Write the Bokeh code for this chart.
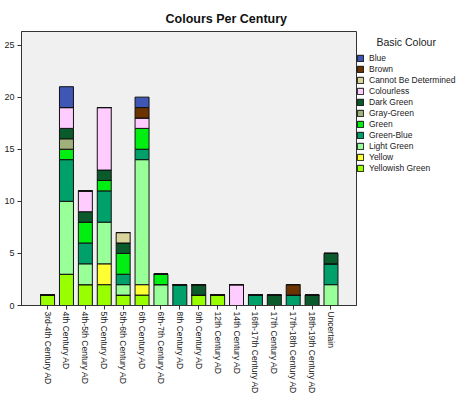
import math
from bokeh.plotting import figure
from bokeh.models import ColumnDataSource, Range1d, FixedTicker, Legend, LegendItem
from bokeh.embed import file_html
from bokeh.resources import INLINE

categories = ["3rd-4th Century AD", "4th Century AD", "4th-5th Century AD", "5th Century AD",
              "5th-6th Century AD", "6th Century AD", "6th-7th Century AD", "8th Century AD",
              "9th Century AD", "12th Century AD", "14th Century AD", "16th-17th Century AD",
              "17th Century AD", "17th-18th Century AD", "18th-19th Century AD", "Uncertain"]

yellowish_green = [1, 3, 2, 2, 1, 1, 0, 0, 1, 1, 0, 0, 0, 0, 0, 0]
yellow          = [0, 0, 0, 2, 0, 1, 0, 0, 0, 0, 0, 0, 0, 0, 0, 0]
light_green     = [0, 7, 2, 4, 1, 12, 2, 0, 0, 0, 0, 0, 0, 0, 0, 2]
green_blue      = [0, 4, 2, 3, 1, 1, 0, 2, 0, 0, 0, 1, 0, 1, 0, 2]
green           = [0, 1, 2, 1, 2, 2, 1, 0, 0, 0, 0, 0, 0, 0, 0, 0]
gray_green      = [0, 1, 0, 0, 0, 0, 0, 0, 0, 0, 0, 0, 0, 0, 0, 0]
dark_green      = [0, 1, 1, 1, 1, 0, 0, 0, 1, 0, 0, 0, 1, 0, 1, 1]
colourless      = [0, 2, 2, 6, 0, 1, 0, 0, 0, 0, 2, 0, 0, 0, 0, 0]
cannot_be_det   = [0, 0, 0, 0, 1, 0, 0, 0, 0, 0, 0, 0, 0, 0, 0, 0]
brown           = [0, 0, 0, 0, 0, 1, 0, 0, 0, 0, 0, 0, 0, 1, 0, 0]
blue            = [0, 2, 0, 0, 0, 1, 0, 0, 0, 0, 0, 0, 0, 0, 0, 0]

series_names = ["Yellowish Green", "Yellow", "Light Green", "Green-Blue", "Green",
                "Gray-Green", "Dark Green", "Colourless", "Cannot Be Determined",
                "Brown", "Blue"]
series_values = [yellowish_green, yellow, light_green, green_blue, green, gray_green,
                 dark_green, colourless, cannot_be_det, brown, blue]
series_colors = ["#99ff00", "#ffff33", "#99ff99", "#00a06a", "#00ee11", "#a0b07a",
                 "#0b5a2b", "#ffccff", "#d9d49a", "#6b3300", "#3f56b4"]

y_ticks = [0, 5, 10, 15, 20, 25]

FONT = "Liberation Sans"

xs = list(range(len(categories)))
data = {"x": xs}
for name, vals in zip(series_names, series_values):
    data[name] = vals
source = ColumnDataSource(data)

p = figure(frame_width=335, frame_height=274, output_backend="svg", toolbar_location=None,
           x_range=Range1d(-1.38, 16.35), y_range=Range1d(0, 26.3),
           min_border_left=21, min_border_right=0, min_border_top=31, min_border_bottom=89)

renderers = p.vbar_stack(series_names, x="x", width=0.74, source=source,
                         fill_color=series_colors, line_color="#111111", line_width=1)

p.background_fill_color = "#f0f0f0"
p.border_fill_color = "white"
p.outline_line_color = "#333333"
p.xgrid.visible = False
p.ygrid.visible = False

p.yaxis.ticker = FixedTicker(ticks=y_ticks)
p.yaxis.minor_tick_line_color = None
p.yaxis.major_tick_out = 4
p.yaxis.major_tick_in = 0
p.yaxis.major_label_standoff = 3
p.yaxis.major_label_text_font = FONT
p.yaxis.major_label_text_font_size = "9px"
p.yaxis.major_label_text_color = "#222222"
p.yaxis.axis_line_color = "#333333"
p.yaxis.major_tick_line_color = "#333333"

p.xaxis.ticker = FixedTicker(ticks=xs)
p.xaxis.major_label_overrides = {i: c for i, c in zip(xs, categories)}
p.xaxis.major_label_orientation = -math.pi / 2
p.xaxis.minor_tick_line_color = None
p.xaxis.major_tick_out = 4
p.xaxis.major_tick_in = 0
p.xaxis.major_label_standoff = 2
p.xaxis.major_label_text_font = FONT
p.xaxis.major_label_text_font_size = "8.5px"
p.xaxis.major_label_text_color = "#222222"
p.xaxis.axis_line_color = "#333333"
p.xaxis.major_tick_line_color = "#333333"

p.title.text = "Colours Per Century"
p.title.text_font = FONT
p.title.text_font_size = "12.5px"
p.title.text_font_style = "bold"
p.title.align = "left"
p.title.offset = 144
p.title.standoff = 12
p.title.text_color = "#111111"

items = [LegendItem(label=n, renderers=[r]) for n, r in zip(series_names, renderers)][::-1]
legend = Legend(items=items, location=(0, 132), padding=0, margin=0,
                title="\u00a0" * 7 + "Basic Colour", title_text_font=FONT,
                title_text_font_size="10.5px",
                title_text_font_style="normal", title_text_color="#222222",
                title_standoff=5,
                glyph_width=8, glyph_height=8, label_height=8, spacing=1,
                label_standoff=5, label_text_font=FONT, label_text_font_size="8.5px",
                label_text_color="#222222", border_line_alpha=0,
                background_fill_alpha=0)
p.add_layout(legend, "right")

open("out.html", "w").write(file_html(p, INLINE))
